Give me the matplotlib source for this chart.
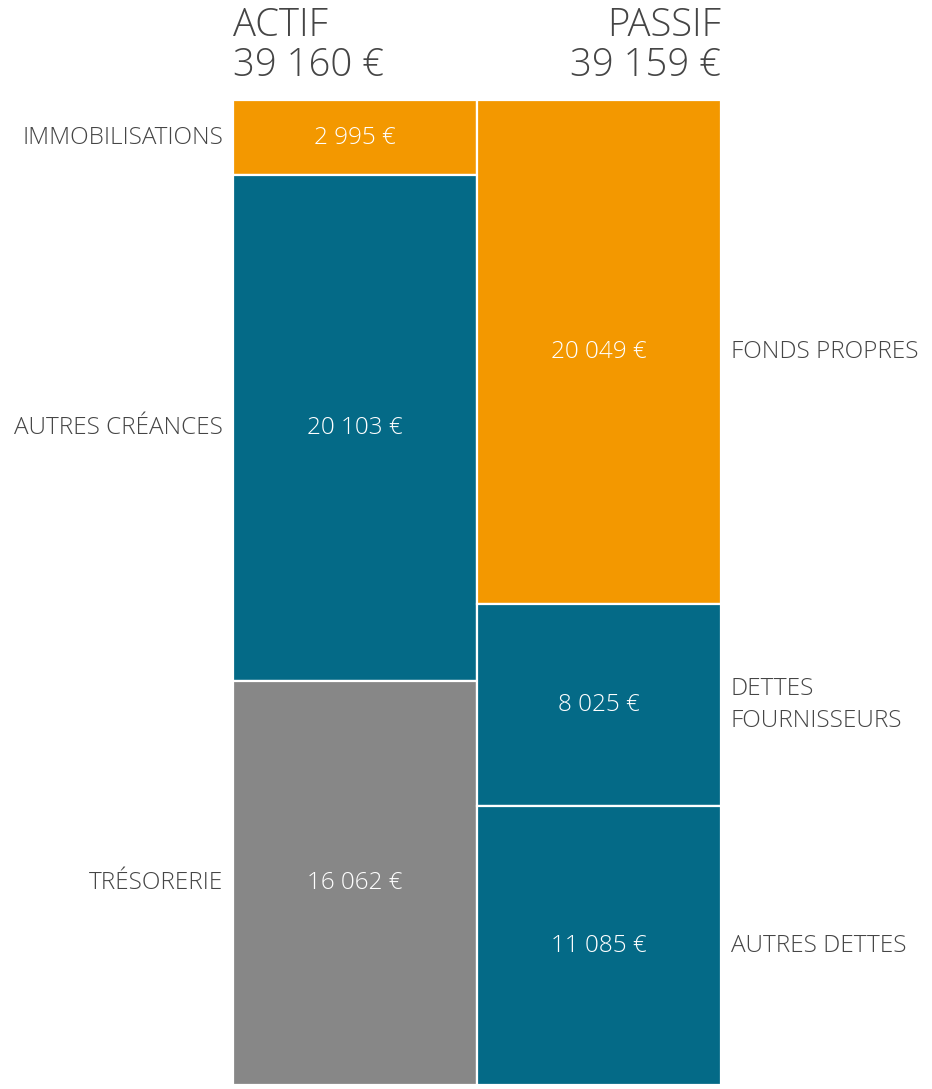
import matplotlib
matplotlib.use('Agg')
import matplotlib.pyplot as plt

# balance sheet data
actifLabels = ['IMMOBILISATIONS', 'AUTRES CRÉANCES', 'TRÉSORERIE']
actifValues = [2995, 20103, 16062]
actifColors = ['#F39800', '#046A87', '#878787']
passifLabels = ['FONDS PROPRES', 'DETTES\nFOURNISSEURS', 'AUTRES DETTES']
passifValues = [20049, 8025, 11085]
passifColors = ['#F39800', '#046A87', '#046A87']
headers = ['ACTIF', 'PASSIF']
totals = [39160, 39159]

plt.rcParams['font.family'] = ['Open Sans', 'DejaVu Sans']

def euro(v):
    return '{:,}'.format(v).replace(',', ' ') + ' €'

fig = plt.figure(figsize=(9.32, 10.89), dpi=100)
W, H = 932, 1089
ax = fig.add_axes([233 / W, 4 / H, (721 - 233) / W, (1089 - 4 - 100) / H])
ax.set_xlim(0, 2)
ymax = max(sum(actifValues), sum(passifValues))
ax.set_ylim(ymax, 0)
ax.axis('off')

txtCol = '#454545'
fs = 17.5

for col, (vals, labs, cols) in enumerate([(actifValues, actifLabels, actifColors),
                                          (passifValues, passifLabels, passifColors)]):
    bottom = 0
    for v, lab, c in zip(vals, labs, cols):
        ax.bar(col + 0.5, v, width=1, bottom=bottom, color=c, edgecolor='white',
               linewidth=1.6, align='center')
        mid = bottom + v / 2
        ax.text(col + 0.5, mid, euro(v), color='white', fontsize=fs, ha='center',
                va='center', fontweight='light')
        if col == 0:
            ax.text(-0.04, mid, lab, color=txtCol, fontsize=fs, ha='right',
                    va='center', fontweight='light', linespacing=1.45)
        else:
            ax.text(2.04, mid, lab, color=txtCol, fontsize=fs, ha='left',
                    va='center', fontweight='light', linespacing=1.45)
        bottom += v

# column headers with totals
for col, (h, t) in enumerate(zip(headers, totals)):
    x = 0.0 if col == 0 else 2.0
    ax.text(x, -ymax * 0.015, h + '\n' + euro(t), color=txtCol, fontsize=27.5,
            ha='left' if col == 0 else 'right', va='bottom', fontweight='light',
            linespacing=1.05)

fig.savefig('out.png', dpi=100, facecolor='white')
